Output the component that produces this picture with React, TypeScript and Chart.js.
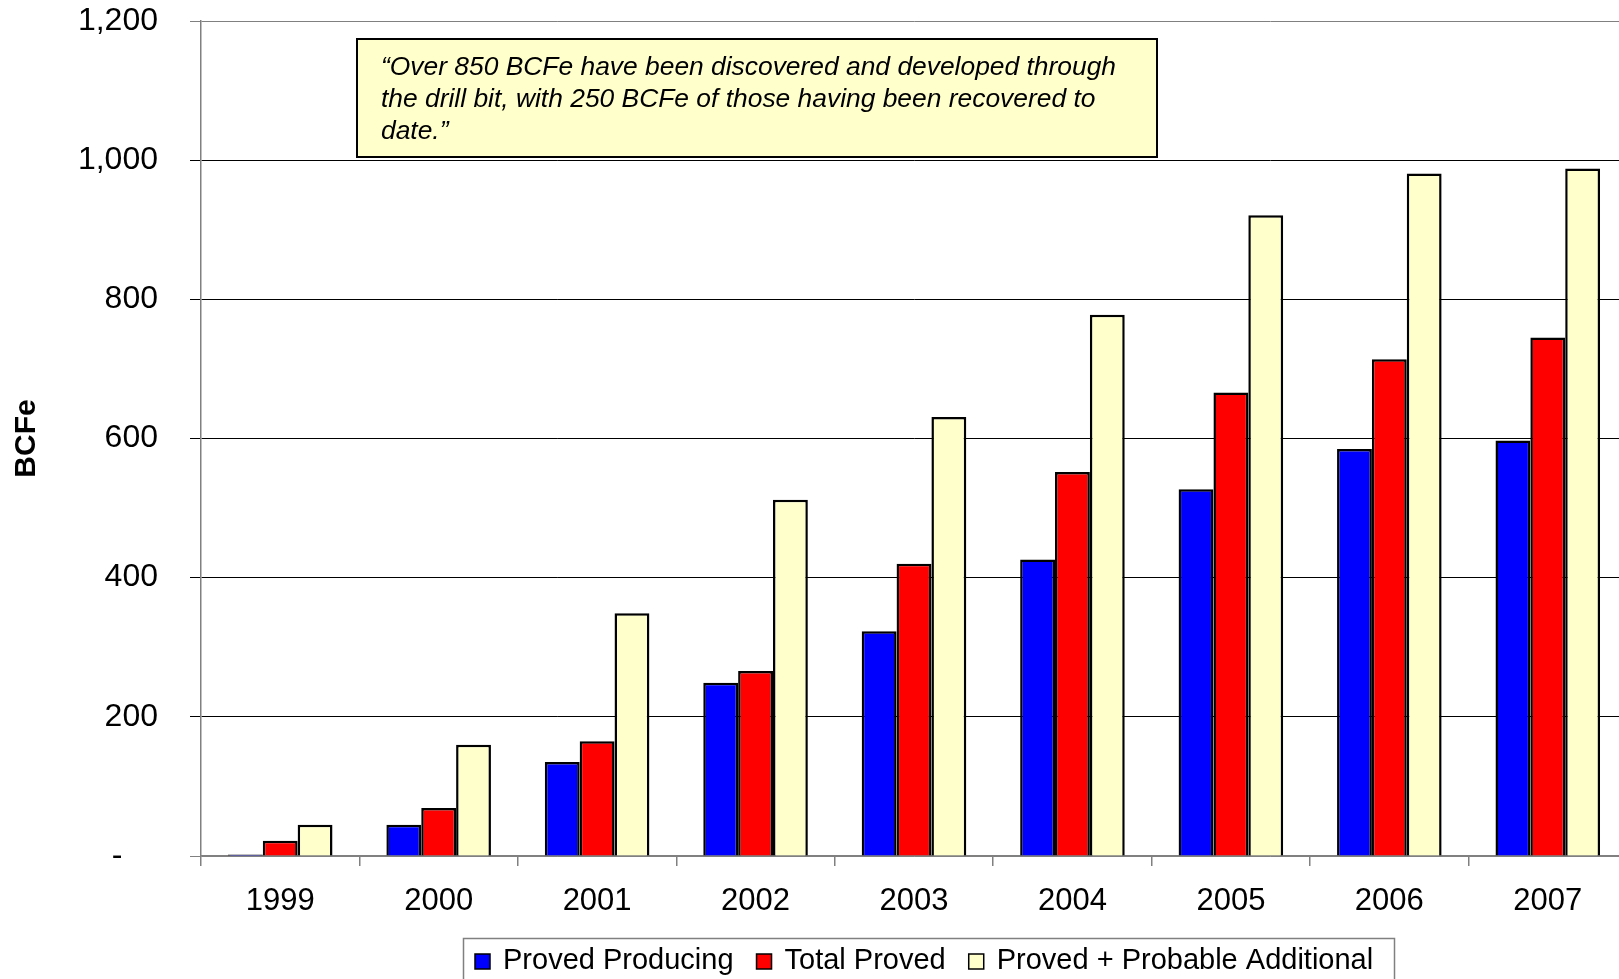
import React, { useEffect, useRef } from 'react';
import { Chart, registerables } from 'chart.js';

Chart.register(...registerables);

const years = ['1999', '2000', '2001', '2002', '2003', '2004', '2005', '2006', '2007'];
const provedProducing = [2, 45, 135, 249, 323, 426, 527, 585, 597];
const totalProved = [22, 69, 165, 266, 420, 552, 666, 714, 745];
const probableAdditional = [45, 160, 349, 512, 631, 778, 921, 981, 988];
const seriesNames = ['Proved Producing', 'Total Proved', 'Proved + Probable Additional'];
const seriesColors = ['#0000FF', '#FF0000', '#FFFFCC'];
const yMin = 0;
const yMax = 1200;
const yStep = 200;
const yAxisTitle = 'BCFe';
const noteLines = [
  '\u201COver 850 BCFe have been discovered and developed through',
  'the drill bit, with 250 BCFe of those having been recovered to',
  'date.\u201D',
];

const FONT = '"Liberation Sans", Arial, sans-serif';

const overlayPlugin = {
  id: 'overlay',
  afterDraw(chart: any) {
    const ctx = chart.ctx as CanvasRenderingContext2D;
    ctx.save();
    // annotation box
    ctx.fillStyle = '#FFFFCC';
    ctx.fillRect(357, 39, 800, 118);
    ctx.strokeStyle = '#000000';
    ctx.lineWidth = 2;
    ctx.strokeRect(357, 39, 800, 118);
    ctx.fillStyle = '#000000';
    ctx.font = 'italic 26.4px ' + FONT;
    ctx.textAlign = 'left';
    ctx.textBaseline = 'alphabetic';
    noteLines.forEach((line, i) => {
      ctx.fillText(line, 381, 75 + i * 32);
    });

    // legend
    ctx.fillStyle = '#FFFFFF';
    ctx.fillRect(463.5, 938.5, 931, 60);
    ctx.strokeStyle = '#808080';
    ctx.lineWidth = 1.5;
    ctx.strokeRect(463.5, 938.5, 931, 60);
    ctx.font = '29px ' + FONT;
    ctx.textBaseline = 'alphabetic';
    let x = 475;
    chart.data.datasets.forEach((ds: any) => {
      ctx.fillStyle = ds.backgroundColor;
      ctx.fillRect(x, 954, 15, 15);
      ctx.strokeStyle = '#000000';
      ctx.lineWidth = 1.5;
      ctx.strokeRect(x, 954, 15, 15);
      ctx.fillStyle = '#000000';
      ctx.fillText(ds.label, x + 28, 969);
      x = x + 28 + ctx.measureText(ds.label).width + 23;
    });
    ctx.restore();
  },
};

export default function App() {
  const canvasRef = useRef<HTMLCanvasElement | null>(null);

  useEffect(() => {
    if (!canvasRef.current) return;
    const values = [provedProducing, totalProved, probableAdditional];
    const chart = new Chart(canvasRef.current, {
      type: 'bar',
      data: {
        labels: years,
        datasets: values.map((v, i) => ({
          label: seriesNames[i],
          data: v,
          backgroundColor: seriesColors[i],
          borderColor: '#000000',
          borderWidth: 2.5,
          categoryPercentage: 0.66,
          barPercentage: 1.0,
        })),
      },
      options: {
        responsive: false,
        animation: false,
        layout: { padding: { top: 21, left: 0, right: 4, bottom: 0 } },
        plugins: {
          legend: { display: false },
          tooltip: { enabled: false },
        },
        scales: {
          x: {
            offset: true,
            grid: {
              offset: true,
              drawOnChartArea: false,
              drawTicks: true,
              tickLength: 10,
              color: '#808080',
              lineWidth: 1.5,
            },
            border: { color: '#808080', width: 1.5 },
            ticks: {
              color: '#000000',
              font: { family: FONT, size: 31 },
              padding: 17,
              maxRotation: 0,
            },
            afterFit(scale: any) {
              scale.height = 123;
              scale.paddingLeft = 0;
              scale.paddingRight = 0;
            },
          },
          y: {
            min: yMin,
            max: yMax,
            ticks: {
              stepSize: yStep,
              color: '#000000',
              font: { family: FONT, size: 32 },
              padding: 32,
              callback: (v: any) => (Number(v) === 0 ? '-    ' : Number(v).toLocaleString('en-US')),
            },
            grid: {
              color: (c: any) => (c.tick && (c.tick.value === yMin || c.tick.value === yMax) ? '#808080' : '#000000'),
              lineWidth: 1,
              tickLength: 11,
            },
            border: { color: '#808080', width: 1.5 },
            title: {
              display: true,
              text: yAxisTitle,
              color: '#000000',
              font: { family: FONT, size: 30, weight: 'bold' },
              padding: { top: 9, bottom: 0 },
            },
            afterFit(scale: any) {
              scale.width = 201;
              scale.paddingTop = 0;
              scale.paddingBottom = 0;
            },
          },
        },
      },
      plugins: [overlayPlugin],
    });
    return () => chart.destroy();
  }, []);

  return (
    <div style={{ position: 'fixed', left: 0, top: 0, width: 1631, height: 979, background: '#fff' }}>
      <canvas ref={canvasRef} width={1631} height={979} style={{ display: 'block' }} />
    </div>
  );
}
